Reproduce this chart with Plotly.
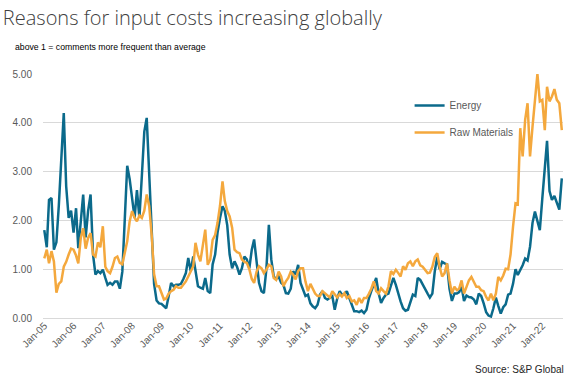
import pandas as pd
import plotly.graph_objects as go

months = pd.date_range("2005-01-01", periods=213, freq="MS")

energy = [
    1.80, 1.45, 2.42, 2.46, 1.40, 1.55, 2.30, 3.20, 4.20, 2.70, 2.05, 2.20,
    1.75, 2.25, 1.43, 1.98, 2.53, 1.65, 2.19, 2.53, 1.30, 0.89, 0.96, 0.92,
    0.99, 0.82, 0.68, 0.72, 0.68, 0.75, 0.75, 0.60, 0.95, 2.00, 3.12, 2.85,
    2.40, 2.05, 2.62, 2.05, 2.90, 3.82, 4.10, 3.00, 1.80, 0.70, 0.36, 0.30,
    0.29, 0.24, 0.20, 0.45, 0.72, 0.65, 0.68, 0.68, 0.70, 0.80, 0.92, 1.23,
    0.96, 1.26, 0.92, 0.65, 0.62, 0.60, 0.82, 0.55, 0.51, 1.10, 1.30, 1.75,
    2.05, 2.29, 2.20, 1.90, 1.30, 1.02, 1.16, 1.05, 0.89, 1.02, 1.26, 1.20,
    1.02, 1.40, 1.61, 1.20, 0.72, 0.55, 0.51, 1.00, 1.91, 1.20, 0.85, 0.80,
    0.85, 0.72, 0.68, 0.51, 0.50, 0.60, 0.96, 0.89, 1.09, 0.72, 0.60, 0.45,
    0.48, 0.30, 0.24, 0.20, 0.27, 0.48, 0.55, 0.41, 0.38, 0.41, 0.45, 0.17,
    0.40, 0.55, 0.48, 0.48, 0.55, 0.41, 0.27, 0.14, 0.14, 0.12, 0.15, 0.10,
    0.17, 0.41, 0.55, 0.68, 0.82, 0.50, 0.31, 0.41, 0.48, 0.50, 0.68, 0.82,
    0.68, 0.48, 0.34, 0.20, 0.15, 0.17, 0.34, 0.48, 0.45, 0.82, 0.78, 0.68,
    0.60, 0.50, 0.42, 0.50, 0.95, 1.25, 1.00, 1.15, 1.12, 1.10, 0.60, 0.35,
    0.50, 0.50, 0.53, 0.64, 0.35, 0.46, 0.43, 0.42, 0.38, 0.28, 0.50, 0.45,
    0.30, 0.12, 0.05, 0.03, 0.20, 0.42, 0.25, 0.09, 0.22, 0.28, 0.48, 0.50,
    0.70, 1.00, 0.88, 0.98, 1.08, 1.22, 1.18, 1.46, 1.95, 2.18, 2.00, 1.80,
    2.45, 3.00, 3.63, 2.60, 2.42, 2.50, 2.35, 2.22, 2.86,
]

raw_materials = [
    1.22, 1.40, 1.12, 1.37, 1.16, 0.52, 0.70, 0.75, 1.05, 1.15, 1.30, 1.42,
    1.40, 1.28, 1.12, 1.64, 1.84, 1.42, 1.64, 1.74, 1.30, 1.26, 1.55, 1.45,
    1.88, 1.05, 0.96, 0.92, 1.05, 1.23, 1.26, 1.13, 1.10, 1.37, 1.57, 1.98,
    2.19, 2.05, 1.98, 2.10, 2.05, 2.20, 2.53, 2.29, 1.70, 0.90, 0.65, 0.65,
    0.50, 0.38, 0.40, 0.50, 0.55, 0.58, 0.65, 0.62, 0.62, 0.68, 0.75, 0.85,
    0.95, 1.06, 1.54, 1.30, 1.16, 1.54, 1.81, 1.09, 1.20, 1.60, 1.70, 1.95,
    2.30, 2.80, 2.40, 2.19, 2.08, 1.85, 1.40, 1.35, 1.33, 1.20, 1.15, 1.13,
    1.00, 0.80, 0.72, 0.95, 1.06, 1.02, 0.92, 0.99, 1.09, 1.06, 0.82, 0.78,
    0.95, 0.85, 0.65, 0.75, 0.82, 0.95, 0.89, 0.79, 0.96, 1.02, 1.02, 0.75,
    0.55, 0.70, 0.60, 0.50, 0.45, 0.45, 0.55, 0.50, 0.45, 0.42, 0.55, 0.48,
    0.42, 0.49, 0.44, 0.51, 0.41, 0.45, 0.34, 0.36, 0.27, 0.41, 0.31, 0.41,
    0.41, 0.50, 0.60, 0.75, 0.55, 0.50, 0.61, 0.55, 0.50, 0.65, 0.96, 0.90,
    0.99, 0.92, 0.85, 1.06, 0.99, 1.12, 1.16, 1.06, 1.16, 1.20, 1.08, 1.05,
    0.98, 0.92, 0.93, 1.05, 1.25, 1.33, 1.05, 0.85, 0.92, 1.12, 0.77, 0.50,
    0.64, 0.57, 0.60, 0.77, 0.50, 0.64, 0.77, 0.84, 0.74, 0.64, 0.64, 0.57,
    0.55, 0.43, 0.36, 0.50, 0.36, 0.50, 0.84, 0.77, 0.87, 1.01, 1.00, 1.30,
    1.87, 2.35, 2.33, 3.89, 3.31, 4.06, 4.40, 3.31, 3.92, 4.47, 5.00, 4.44,
    4.47, 3.85, 4.74, 4.44, 4.54, 4.69, 4.47, 4.40, 3.85,
]

series_names = ["Energy", "Raw Materials"]
series_colors = ["#0B6A8B", "#F4A83D"]

fig = go.Figure()
for name, vals, col in zip(series_names, [energy, raw_materials], series_colors):
    fig.add_trace(go.Scatter(
        x=months, y=vals, mode="lines", name=name, legendgroup=name,
        line=dict(color=col, width=2.5),
    ))

fig.update_layout(
    width=571, height=381,
    margin=dict(l=43, r=8, t=74, b=63),
    paper_bgcolor="white", plot_bgcolor="white",
    font=dict(family="Liberation Sans, Arial, sans-serif", size=10, color="#595959"),
    showlegend=True,
    legend=dict(
        x=0.705, y=0.93, xanchor="left", yanchor="top",
        bgcolor="rgba(0,0,0,0)", tracegroupgap=8,
        font=dict(size=10, color="#595959"),
    ),
    title=dict(
        text="Reasons for input costs increasing globally",
        x=0.005, xanchor="left", y=0.952, yanchor="middle",
        font=dict(family="Open Sans, sans-serif", size=20, color="#404040", weight=300),
    ),
    annotations=[
        dict(text="above 1 = comments more frequent than average", xref="paper", yref="paper",
             x=-0.057, y=1.11, xanchor="left", yanchor="middle", showarrow=False,
             font=dict(size=8.7, color="#000000")),
        dict(text="Source: S&P Global", xref="paper", yref="paper",
             x=1.005, y=-0.21, xanchor="right", yanchor="middle", showarrow=False,
             font=dict(size=10, color="#262626")),
    ],
)

fig.update_xaxes(
    range=["2004-12-16", "2022-09-16"],
    tickformat="%b-%y", dtick="M12", tick0="2005-01-01",
    tickangle=-45, showgrid=False, showline=True, linecolor="#D9D9D9",
    ticks="", ticklabelstandoff=-3, tickfont=dict(size=10, color="#595959"),
)
fig.update_yaxes(
    range=[0, 5], dtick=1, tickformat=".2f",
    showgrid=True, gridcolor="#D9D9D9", gridwidth=1,
    zeroline=False, showline=False, ticks="",
    ticklabelstandoff=10, tickfont=dict(size=10, color="#595959"),
)

fig.write_html("out.html", config={"displayModeBar": False},
               post_script="document.body.style.margin='0';")
